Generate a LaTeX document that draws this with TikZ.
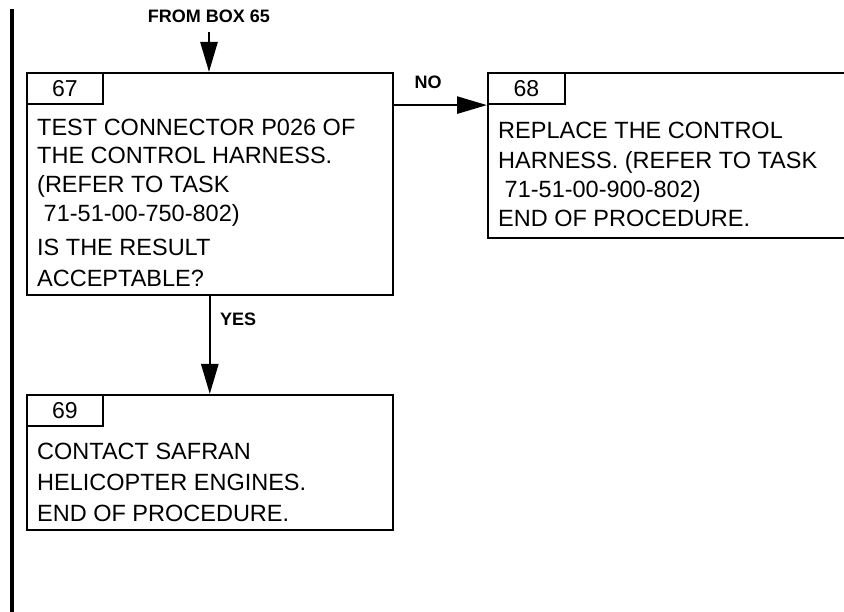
\documentclass[tikz,border=0pt]{standalone}
\usepackage{fontspec}
\setmainfont{Liberation Sans}
\usetikzlibrary{positioning, arrows.meta}

\begin{document}
\begin{tikzpicture}[
    x=1pt, y=-1pt,
    frame/.style={rectangle, draw, line width=1.6pt, inner sep=0pt,
                  anchor=north west},
    tab/.style={frame, minimum width=76pt, minimum height=31pt,
                font=\fontsize{23}{28}\selectfont},
    body/.style={align=left, inner sep=0pt,
                 font=\fontsize{23.5}{28.7}\selectfont},
    lbl/.style={font=\fontsize{18}{20}\selectfont\bfseries, inner sep=0pt},
    flow/.style={-{Triangle[length=30pt, width=17pt]}, line width=2.6pt}
]
  \useasboundingbox (0,0) rectangle (844,612);
  \clip (0,0) rectangle (844,612);

  % change bar
  \draw[line width=4pt] (12,9) -- (12,612);

  \node[lbl] (from65) at (209,16.5) {FROM BOX 65};

  % Box 67
  \node[frame, minimum width=366pt, minimum height=222pt] (b67) at (26,72) {};
  \node[tab] (t67) at (b67.north west) {67};
  \node[body, below right=14pt and 11pt of t67.south west] (x67)
    {TEST CONNECTOR P026 OF\\THE CONTROL HARNESS.\\(REFER TO TASK\\
     \ 71-51-00-750-802)\\[5.5pt]IS THE RESULT\\[2pt]ACCEPTABLE?};

  % Box 68
  \node[frame, minimum width=420pt, minimum height=165pt] (b68) at (487,72.5) {};
  \node[tab, minimum width=77pt] (t68) at (b68.north west) {68};
  \node[body, below right=17pt and 11pt of t68.south west,
        font=\fontsize{23.5}{29.3}\selectfont] (x68)
    {REPLACE THE CONTROL\\HARNESS. (REFER TO TASK\\
     \ 71-51-00-900-802)\\END OF PROCEDURE.};

  % Box 69
  \node[frame, minimum width=366pt, minimum height=135pt] (b69) at (26,394) {};
  \node[tab] (t69) at (b69.north west) {69};
  \node[body, below right=16.5pt and 11pt of t69.south west,
        font=\fontsize{23.5}{31}\selectfont] (x69)
    {CONTACT SAFRAN\\HELICOPTER ENGINES.\\END OF PROCEDURE.};

  % Connectors
  \draw[flow, shorten <=9pt] (from65.south) -- (from65.south |- b67.north);
  \draw[flow] (b67.east |- t68.south) -- (t68.south west)
    node[lbl, pos=0.37, above=15pt] {NO};
  \draw[flow] (b67.south) -- (b69.north)
    node[lbl, pos=0.24, right=9pt] {YES};
\end{tikzpicture}
\end{document}
